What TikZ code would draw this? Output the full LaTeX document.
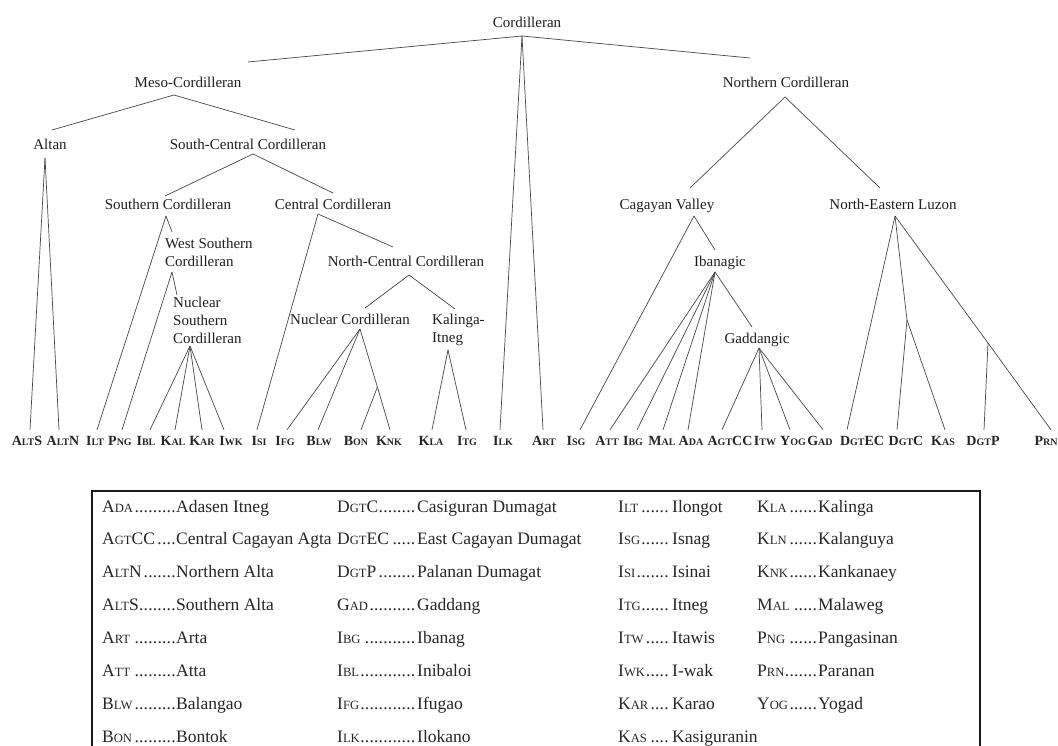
\documentclass[tikz,border=0pt]{standalone}
\usepackage{fontspec}
\setmainfont{Liberation Serif}
% fake small capitals for the language codes
\newcommand\ls[1]{{\fontsize{10}{10}\selectfont #1}}
\newcommand\gs[1]{{\fontsize{12.6}{13}\selectfont #1}}
\newcommand\leaderdots{\leaders\hbox to 4.6pt{\hss.\hss}\hfill}
\newcommand\entry[3]{\makebox[#1][l]{#2\leaderdots}#3}
\begin{document}
\begin{tikzpicture}[x=1pt,y=-1pt,
  lbl/.style={font=\fontsize{15}{18}\selectfont, text=black!88, inner sep=0pt, anchor=base},
  mlbl/.style={font=\fontsize{15}{18}\selectfont, text=black!88, inner sep=0pt, anchor=north west, align=left},
  leaf/.style={font=\bfseries\fontsize{14}{14}\selectfont, text=black!85, inner sep=0pt, outer sep=6pt, anchor=base},
  edge/.style={draw=black!72, line width=0.7pt},
  key/.style={font=\fontsize{17.5}{18}\selectfont, text=black!85, inner sep=0pt, anchor=base west}]
\fill[white] (0,0) rectangle (1058,746);
\useasboundingbox (0,0) rectangle (1058,746);

% ---- internal labels
\node[lbl] (cord) at (527,28) {Cordilleran};
\node[lbl] (meso) at (188,88) {Meso-Cordilleran};
\node[lbl] (altan) at (50,150) {Altan};
\node[lbl] (sc) at (248,150) {South-Central Cordilleran};
\node[lbl] (south) at (168,210) {Southern Cordilleran};
\node[lbl] (central) at (333,210) {Central Cordilleran};
\node[mlbl] (wsc) at (165,237.5) {West Southern\\Cordilleran};
\node[mlbl] (nsc) at (173,296.5) {Nuclear\\Southern\\Cordilleran};
\node[lbl] (nc) at (406,267) {North-Central Cordilleran};
\node[lbl] (nuc) at (350,324) {Nuclear Cordilleran};
\node[mlbl] (ki) at (432,313.5) {Kalinga-\\Itneg};
\node[lbl] (north) at (786,88) {Northern Cordilleran};
\node[lbl] (cv) at (667,210) {Cagayan Valley};
\node[lbl] (nel) at (893,210) {North-Eastern Luzon};
\node[lbl] (iban) at (720,266) {Ibanagic};
\node[lbl] (gadd) at (757,343) {Gaddangic};

% ---- junctions and line ends
\coordinate (cord-b) at (522,36);
\coordinate (meso-t) at (248,62);
\coordinate (north-t) at (750,58);
\coordinate (meso-b) at (174,95);
\coordinate (altan-t) at (52,130);
\coordinate (sc-t) at (295,130);
\coordinate (altan-b) at (45,158);
\coordinate (sc-b) at (253,154);
\coordinate (south-t) at (165,196);
\coordinate (central-t) at (333,193);
\coordinate (south-b) at (166,216);
\coordinate (wsc-t) at (172,232);
\coordinate (wsc-b) at (172,272);
\coordinate (nsc-t) at (177,295);
\coordinate (nsc-b) at (190,346);
\coordinate (central-b) at (318,214);
\coordinate (nc-t) at (393,247);
\coordinate (nc-b) at (409,275);
\coordinate (nuc-t) at (365,308);
\coordinate (ki-t) at (455,309);
\coordinate (nuc-b) at (360,329);
\coordinate (knk-fork) at (377.4,387);
\coordinate (ki-b) at (448,350);
\coordinate (north-b) at (785,97);
\coordinate (cv-t) at (690,188);
\coordinate (nel-t) at (880,188);
\coordinate (cv-b) at (694,216);
\coordinate (iban-t) at (715,250);
\coordinate (iban-b) at (715,272);
\coordinate (gadd-t) at (752,327);
\coordinate (gadd-b) at (759,348);
\coordinate (nel-b) at (895,216);
\coordinate (kas-fork) at (907,320);
\coordinate (prn-fork) at (988,343);

% ---- leaves
\node[leaf] (alts) at (27,445) {A\ls{LT}S};
\node[leaf] (altn) at (63,445) {A\ls{LT}N};
\node[leaf] (ilt) at (95,445) {I\ls{LT}};
\node[leaf] (png) at (120,445) {P\ls{NG}};
\node[leaf] (ibl) at (146,445) {I\ls{BL}};
\node[leaf] (kal) at (173,445) {K\ls{AL}};
\node[leaf] (kar) at (202,445) {K\ls{AR}};
\node[leaf] (iwk) at (231,445) {I\ls{WK}};
\node[leaf] (isi) at (259,445) {I\ls{SI}};
\node[leaf] (ifg) at (285,445) {I\ls{FG}};
\node[leaf] (blw) at (319,445) {B\ls{LW}};
\node[leaf] (bon) at (356,445) {B\ls{ON}};
\node[leaf] (knk) at (389,445) {K\ls{NK}};
\node[leaf] (kla) at (431,445) {K\ls{LA}};
\node[leaf] (itg) at (467,445) {I\ls{TG}};
\node[leaf] (ilk) at (503,445) {I\ls{LK}};
\node[leaf] (art) at (544,445) {A\ls{RT}};
\node[leaf] (isg) at (576,445) {I\ls{SG}};
\node[leaf] (att) at (607,445) {A\ls{TT}};
\node[leaf] (ibg) at (633,445) {I\ls{BG}};
\node[leaf] (mal) at (662,445) {M\ls{AL}};
\node[leaf] (ada) at (691,445) {A\ls{DA}};
\node[leaf] (agtcc) at (730,445) {A\ls{GT}CC};
\node[leaf] (itw) at (765,445) {I\ls{TW}};
\node[leaf] (yog) at (793,445) {Y\ls{OG}};
\node[leaf] (gad) at (820,445) {G\ls{AD}};
\node[leaf] (dgtec) at (862,445) {D\ls{GT}EC};
\node[leaf] (dgtc) at (906,445) {D\ls{GT}C};
\node[leaf] (kas) at (943,445) {K\ls{AS}};
\node[leaf] (dgtp) at (983,445) {D\ls{GT}P};
\node[leaf] (prn) at (1046,445) {P\ls{RN}};

% ---- branches
\begin{scope}[edge]
\draw (meso-t) -- (cord-b) -- (north-t);
\draw (cord-b) -- ([xshift=-3pt]ilk.north);
\draw (cord-b) -- ([xshift=-1pt]art.north);
\draw (altan-t) -- (meso-b) -- (sc-t);
\draw (altan-b) -- ([xshift=3pt]alts.north);
\draw (altan-b) -- ([xshift=-4pt]altn.north);
\draw (south-t) -- (sc-b) -- (central-t);
\draw (south-b) -- ([xshift=2pt]ilt.north);
\draw (south-b) -- (wsc-t);
\draw (wsc-b) -- ([xshift=2pt]png.north);
\draw (wsc-b) -- (nsc-t);
\draw (nsc-b) -- ([xshift=4pt]ibl.north);
\draw (nsc-b) -- ([xshift=2pt]kal.north);
\draw (nsc-b) -- (kar.north);
\draw (nsc-b) -- ([xshift=-7pt]iwk.north);
\draw (central-b) -- ([xshift=-2pt]isi.north);
\draw (central-b) -- (nc-t);
\draw (nuc-t) -- (nc-b) -- (ki-t);
\draw (nuc-b) -- ([xshift=2pt]ifg.north);
\draw (nuc-b) -- ([xshift=-1pt]blw.north);
\draw (nuc-b) -- (knk-fork) -- ([xshift=1pt]knk.north);
\draw (knk-fork) -- ([xshift=5pt]bon.north);
\draw (ki-b) -- ([xshift=1pt]kla.north);
\draw (ki-b) -- ([xshift=-1pt]itg.north);
\draw (cv-t) -- (north-b) -- (nel-t);
\draw (cv-b) -- ([xshift=4pt]isg.north);
\draw (cv-b) -- (iban-t);
\draw (iban-b) -- ([xshift=3pt]att.north);
\draw (iban-b) -- ([xshift=4pt]ibg.north);
\draw (iban-b) -- ([xshift=1pt]mal.north);
\draw (iban-b) -- ([xshift=-3pt]ada.north);
\draw (iban-b) -- (gadd-t);
\draw (gadd-b) -- ([xshift=-8pt]agtcc.north);
\draw (gadd-b) -- ([xshift=-3pt]itw.north);
\draw (gadd-b) -- ([xshift=-3pt]yog.north);
\draw (gadd-b) -- ([xshift=3pt]gad.north);
\draw (nel-b) -- ([xshift=-15pt]dgtec.north);
\draw (nel-b) -- (kas-fork) -- ([xshift=2pt]kas.north);
\draw (kas-fork) -- ([xshift=-9pt]dgtc.north);
\draw (nel-b) -- (prn-fork) -- ([xshift=5pt]prn.north);
\draw (prn-fork) -- ([xshift=1pt]dgtp.north);
\end{scope}

% ---- key to the language codes
\draw[line width=2.4pt, black!90] (92,491) rectangle (980,780);
\foreach \ab/\nm [count=\i from 0] in {%
  A\gs{DA}/Adasen Itneg, A\gs{GT}CC/Central Cagayan Agta, A\gs{LT}N/Northern Alta,
  A\gs{LT}S/Southern Alta, A\gs{RT}/Arta, A\gs{TT}/Atta, B\gs{LW}/Balangao, B\gs{ON}/Bontok}
  \node[key] (ka\i) at (102,512+32.9*\i) {\entry{74pt}{\ab}{\nm}};
\foreach \ab/\nm [count=\i from 0] in {%
  D\gs{GT}C/Casiguran Dumagat, D\gs{GT}EC/East Cagayan Dumagat, D\gs{GT}P/Palanan Dumagat,
  G\gs{AD}/Gaddang, I\gs{BG}/Ibanag, I\gs{BL}/Inibaloi, I\gs{FG}/Ifugao, I\gs{LK}/Ilokano}
  \node[key] (kb\i) at (337,512+32.9*\i) {\entry{80pt}{\ab}{\nm}};
\foreach \ab/\nm [count=\i from 0] in {%
  I\gs{LT}/Ilongot, I\gs{SG}/Isnag, I\gs{SI}/Isinai, I\gs{TG}/Itneg,
  I\gs{TW}/Itawis, I\gs{WK}/I-wak, K\gs{AR}/Karao, K\gs{AS}/Kasiguranin}
  \node[key] (kc\i) at (618,512+32.9*\i) {\entry{54pt}{\ab}{\nm}};
\foreach \ab/\nm [count=\i from 0] in {%
  K\gs{LA}/Kalinga, K\gs{LN}/Kalanguya, K\gs{NK}/Kankanaey, M\gs{AL}/Malaweg,
  P\gs{NG}/Pangasinan, P\gs{RN}/Paranan, Y\gs{OG}/Yogad}
  \node[key] (kd\i) at (757,512+32.9*\i) {\entry{61pt}{\ab}{\nm}};
\end{tikzpicture}
\end{document}
